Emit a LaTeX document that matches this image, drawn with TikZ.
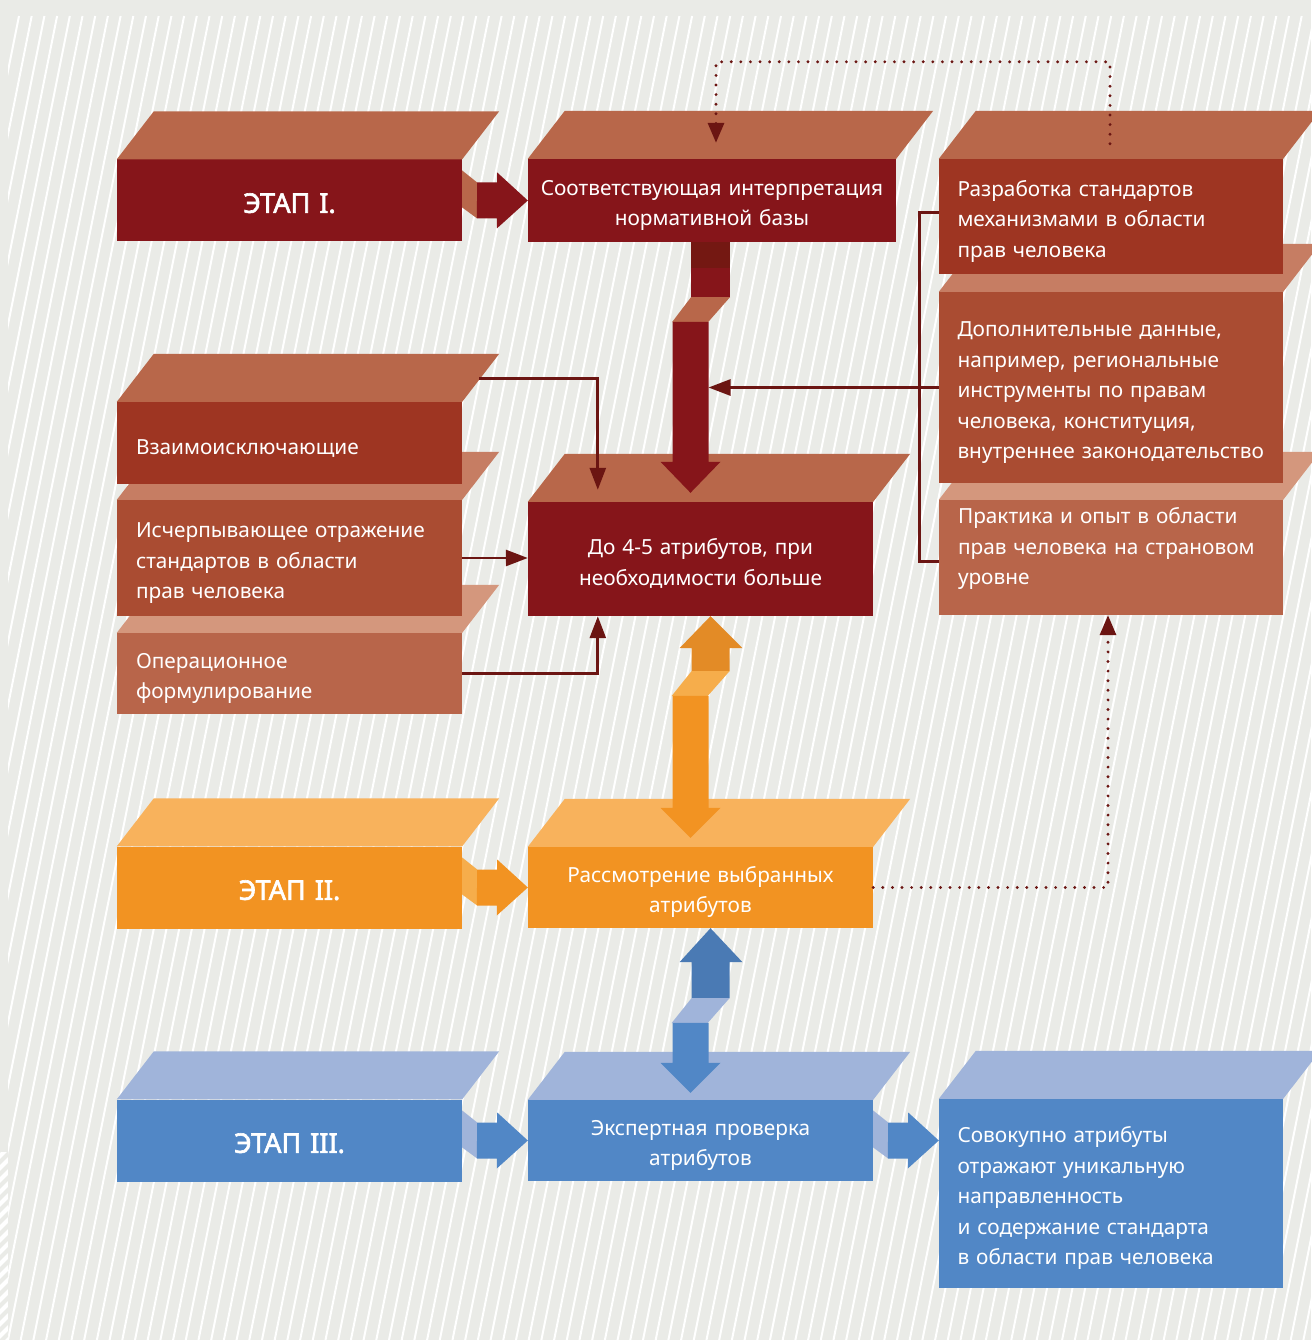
\documentclass[tikz,border=0pt]{standalone}
\usepackage{fontspec}
\setmainfont{Noto Sans}
\newfontfamily\stagefont{Noto Sans}[FakeBold=2.2]
\usetikzlibrary{arrows.meta}

\definecolor{paper}{HTML}{EAEBE7}
\definecolor{wine}{HTML}{86151A}
\definecolor{winedeep}{HTML}{741812}
\definecolor{rusttop}{HTML}{B8674A}
\definecolor{rust}{HTML}{9E3522}
\definecolor{brick}{HTML}{AA4C32}
\definecolor{bricktop}{HTML}{C67D63}
\definecolor{clay}{HTML}{B8654A}
\definecolor{claytop}{HTML}{D4977D}
\definecolor{linkred}{HTML}{6B1512}
\definecolor{amber}{HTML}{F29322}
\definecolor{ambertop}{HTML}{F8B25C}
\definecolor{amberside}{HTML}{F6AD4B}
\definecolor{amberdeep}{HTML}{E38B26}
\definecolor{sky}{HTML}{5187C6}
\definecolor{skytop}{HTML}{A0B4DA}
\definecolor{skydeep}{HTML}{4A7AB4}

\newcommand{\topface}[2]{\fill[#2] (#1.north west) -- ++(37,-48) -- ([shift={(37,-48)}]#1.north east) -- (#1.north east) -- cycle;}

\begin{document}
\begin{tikzpicture}[x=1pt, y=-1pt,
    box/.style={rectangle, inner sep=0pt, minimum width=345pt, text width=345pt, text=white, align=center,
                font=\fontsize{20.8}{30.5}\selectfont, execute at begin node={\rule{0pt}{25pt}}},
    card/.style={box, text width=307pt, align=left},
    stage/.style={box, minimum height=82pt, font=\stagefont\fontsize{27}{30}\selectfont},
    conn/.style={draw=linkred, line width=2.7pt},
    link/.style={conn, -{Triangle[length=22pt,width=16pt]}},
    dotlink/.style={draw=linkred, line width=3.2pt, line cap=round, dash pattern=on 0pt off 9.6pt,
                    -{Triangle[length=20pt,width=16pt]}}]
    \useasboundingbox (0,0) rectangle (1311,1340);

    % background with stripes
    \fill[paper] (0,0) rectangle (1311,1340);
    \begin{scope}
        \clip (8,16) rectangle (1311,1340);
        \foreach \i in {-25,...,105}
            \draw[white, line width=2pt] ({8+12.7*\i},1340) -- ++(265,-1324);
    \end{scope}
    \begin{scope}
        \clip (0,1152) rectangle (8,1340);
        \fill[white] (0,1152) rectangle (8,1340);
        \foreach \i in {0,...,16}
            \draw[paper, line width=4pt] (-10,{1160+12*\i}) -- ++(20,-20);
    \end{scope}

    % left column
    \node[card, fill=clay, minimum height=81pt] (oper) at (289.5,673.5) {Операционное\\формулирование};
    \topface{oper}{claytop}
    \node[card, fill=brick, minimum height=116pt] (exh) at (289.5,558) {Исчерпывающее отражение\\стандартов в области\\прав человека};
    \topface{exh}{bricktop}
    \node[card, fill=rust, minimum height=82pt] (excl) at (289.5,443) {Взаимоисключающие};
    \topface{excl}{rusttop}

    % stages
    \node[stage, fill=wine] (s1) at (289.5,200.5) {ЭТАП I.};
    \topface{s1}{rusttop}
    \node[stage, fill=amber] (s2) at (289.5,887.5) {ЭТАП II.};
    \topface{s2}{ambertop}
    \node[stage, fill=sky] (s3) at (289.5,1140.5) {ЭТАП III.};
    \topface{s3}{skytop}

    % middle column
    \node[box, fill=wine, minimum width=368pt, text width=368pt, minimum height=83pt] (interp) at (712,200.5) {Соответствующая интерпретация\\нормативной базы};
    \topface{interp}{rusttop}
    \node[box, fill=wine, minimum height=114pt] (attr) at (700.5,559) {До 4-5 атрибутов, при\\необходимости больше};
    \topface{attr}{rusttop}
    \node[box, fill=amber, minimum height=81pt] (review) at (700.5,887.5) {Рассмотрение выбранных\\атрибутов};
    \topface{review}{ambertop}
    \node[box, fill=sky, minimum height=81pt] (expert) at (700.5,1140.5) {Экспертная проверка\\атрибутов};
    \topface{expert}{skytop}

    % right column
    \node[card, fill=clay, minimum width=344pt, minimum height=115pt] (prac) at (1111,557.5) {};
    \topface{prac}{claytop}
    \node[card, anchor=north west, minimum width=0pt] (prac-txt) at ([shift={(19,-1.5)}]prac.north west) {Практика и опыт в области\\прав человека на страновом\\уровне};
    \node[card, fill=brick, minimum width=344pt, minimum height=191pt] (add) at (1111,387.5) {Дополнительные данные,\\например, региональные\\инструменты по правам\\человека, конституция,\\внутреннее законодательство};
    \topface{add}{bricktop}
    \node[card, fill=rust, minimum width=344pt, minimum height=115pt] (dev) at (1111,216.5) {Разработка стандартов\\механизмами в области\\прав человека};
    \topface{dev}{rusttop}
    \node[card, fill=sky, minimum width=344pt, minimum height=189pt] (total) at (1111,1193.5) {Совокупно атрибуты\\отражают уникальную\\направленность\\и содержание стандарта\\в области прав человека};
    \topface{total}{skytop}

    % flat 3d arrows between boxes
    \foreach \a/\b/\lt/\dk in {s1/interp/rusttop/wine, s2/review/amberside/amber, s3/expert/skytop/sky, expert/total/skytop/sky} {
        \fill[\lt] ([shift={(0,-30)}]\a.east) -- ++(15,12) -- ++(0,36) -- ++(-15,-11) -- cycle;
        \fill[\dk] ([shift={(15,-18)}]\a.east) -- ++(20,0) -- ++(0,-10) -- (\a.east -| \b.west)
            -- ++(-31,28) -- ++(0,-10) -- ++(-20,0) -- cycle;
    }

    % big arrow down from interpretation
    \coordinate (r-top) at ([xshift=-1]interp.south);
    \coordinate (r-tip) at ([shift={(-10,-9)}]attr.north);
    \coordinate (shaft) at ([xshift=18]r-tip);
    \fill[winedeep] ([xshift=-20]r-top) rectangle ++(39,26);
    \fill[wine] ([shift={(-20,26)}]r-top) rectangle ++(39,29);
    \fill[rusttop] ([shift={(-20,55)}]r-top) -- ++(39,0) -- ++(-22,25) -- ++(-36,0) -- cycle;
    \fill[wine] (r-tip) -- ++(-30,-31) -- ++(12,0) |- ++(36,-140) -- ++(0,140) -- ++(12,0) -- cycle;

    % orange double arrow
    \coordinate (o-top) at ([xshift=10]attr.south);
    \coordinate (o-tip) at ([shift={(-10,-9)}]review.north);
    \fill[amberdeep] (o-top) -- ++(-31,32) -- ++(12,0) -- ++(0,23) -- ++(38,0) -- ++(0,-23) -- ++(13,0) -- cycle;
    \fill[amberside] ([shift={(-19,55)}]o-top) -- ++(38,0) -- ++(-22,25) -- ++(-36,0) -- cycle;
    \fill[amber] (o-tip) -- ++(-30,-30) -- ++(12,0) |- ++(36,-112) -- ++(0,112) -- ++(12,0) -- cycle;

    % blue double arrow
    \coordinate (b-top) at ([xshift=10]review.south);
    \coordinate (b-tip) at ([shift={(-10,-7)}]expert.north);
    \fill[skydeep] (b-top) -- ++(-31,34) -- ++(12,0) -- ++(0,36) -- ++(38,0) -- ++(0,-36) -- ++(13,0) -- cycle;
    \fill[skytop] ([shift={(-19,70)}]b-top) -- ++(38,0) -- ++(-22,25) -- ++(-36,0) -- cycle;
    \fill[sky] (b-tip) -- ++(-30,-30) -- ++(12,0) |- ++(36,-40) -- ++(0,40) -- ++(12,0) -- cycle;

    % connectors
    \coordinate (excl-edge) at ([shift={(17,-23)}]excl.north east);
    \draw[link] (excl-edge) -| ([shift={(70,-12)}]attr.north west);
    \draw[link] (exh.east) -- (exh.east -| attr.west);
    \draw[link] (oper.east) -| ([xshift=70]attr.south west);
    \draw[conn] ([shift={(0,-4)}]dev.west) -- ++(-19,0) |- ([shift={(0,4)}]prac.west);
    \draw[link] (add.west) -- (add.west -| shaft);

    \coordinate (dev-dot) at ([shift={(-1,-15)}]dev.north);
    \coordinate (interp-dot) at ([shift={(4,-16)}]interp.north);
    \draw[dotlink] (dev-dot) -- ++(0,-82) -| (interp-dot);
    \draw[dotlink] (review.east) -| ([xshift=-3]prac.south);
\end{tikzpicture}
\end{document}
